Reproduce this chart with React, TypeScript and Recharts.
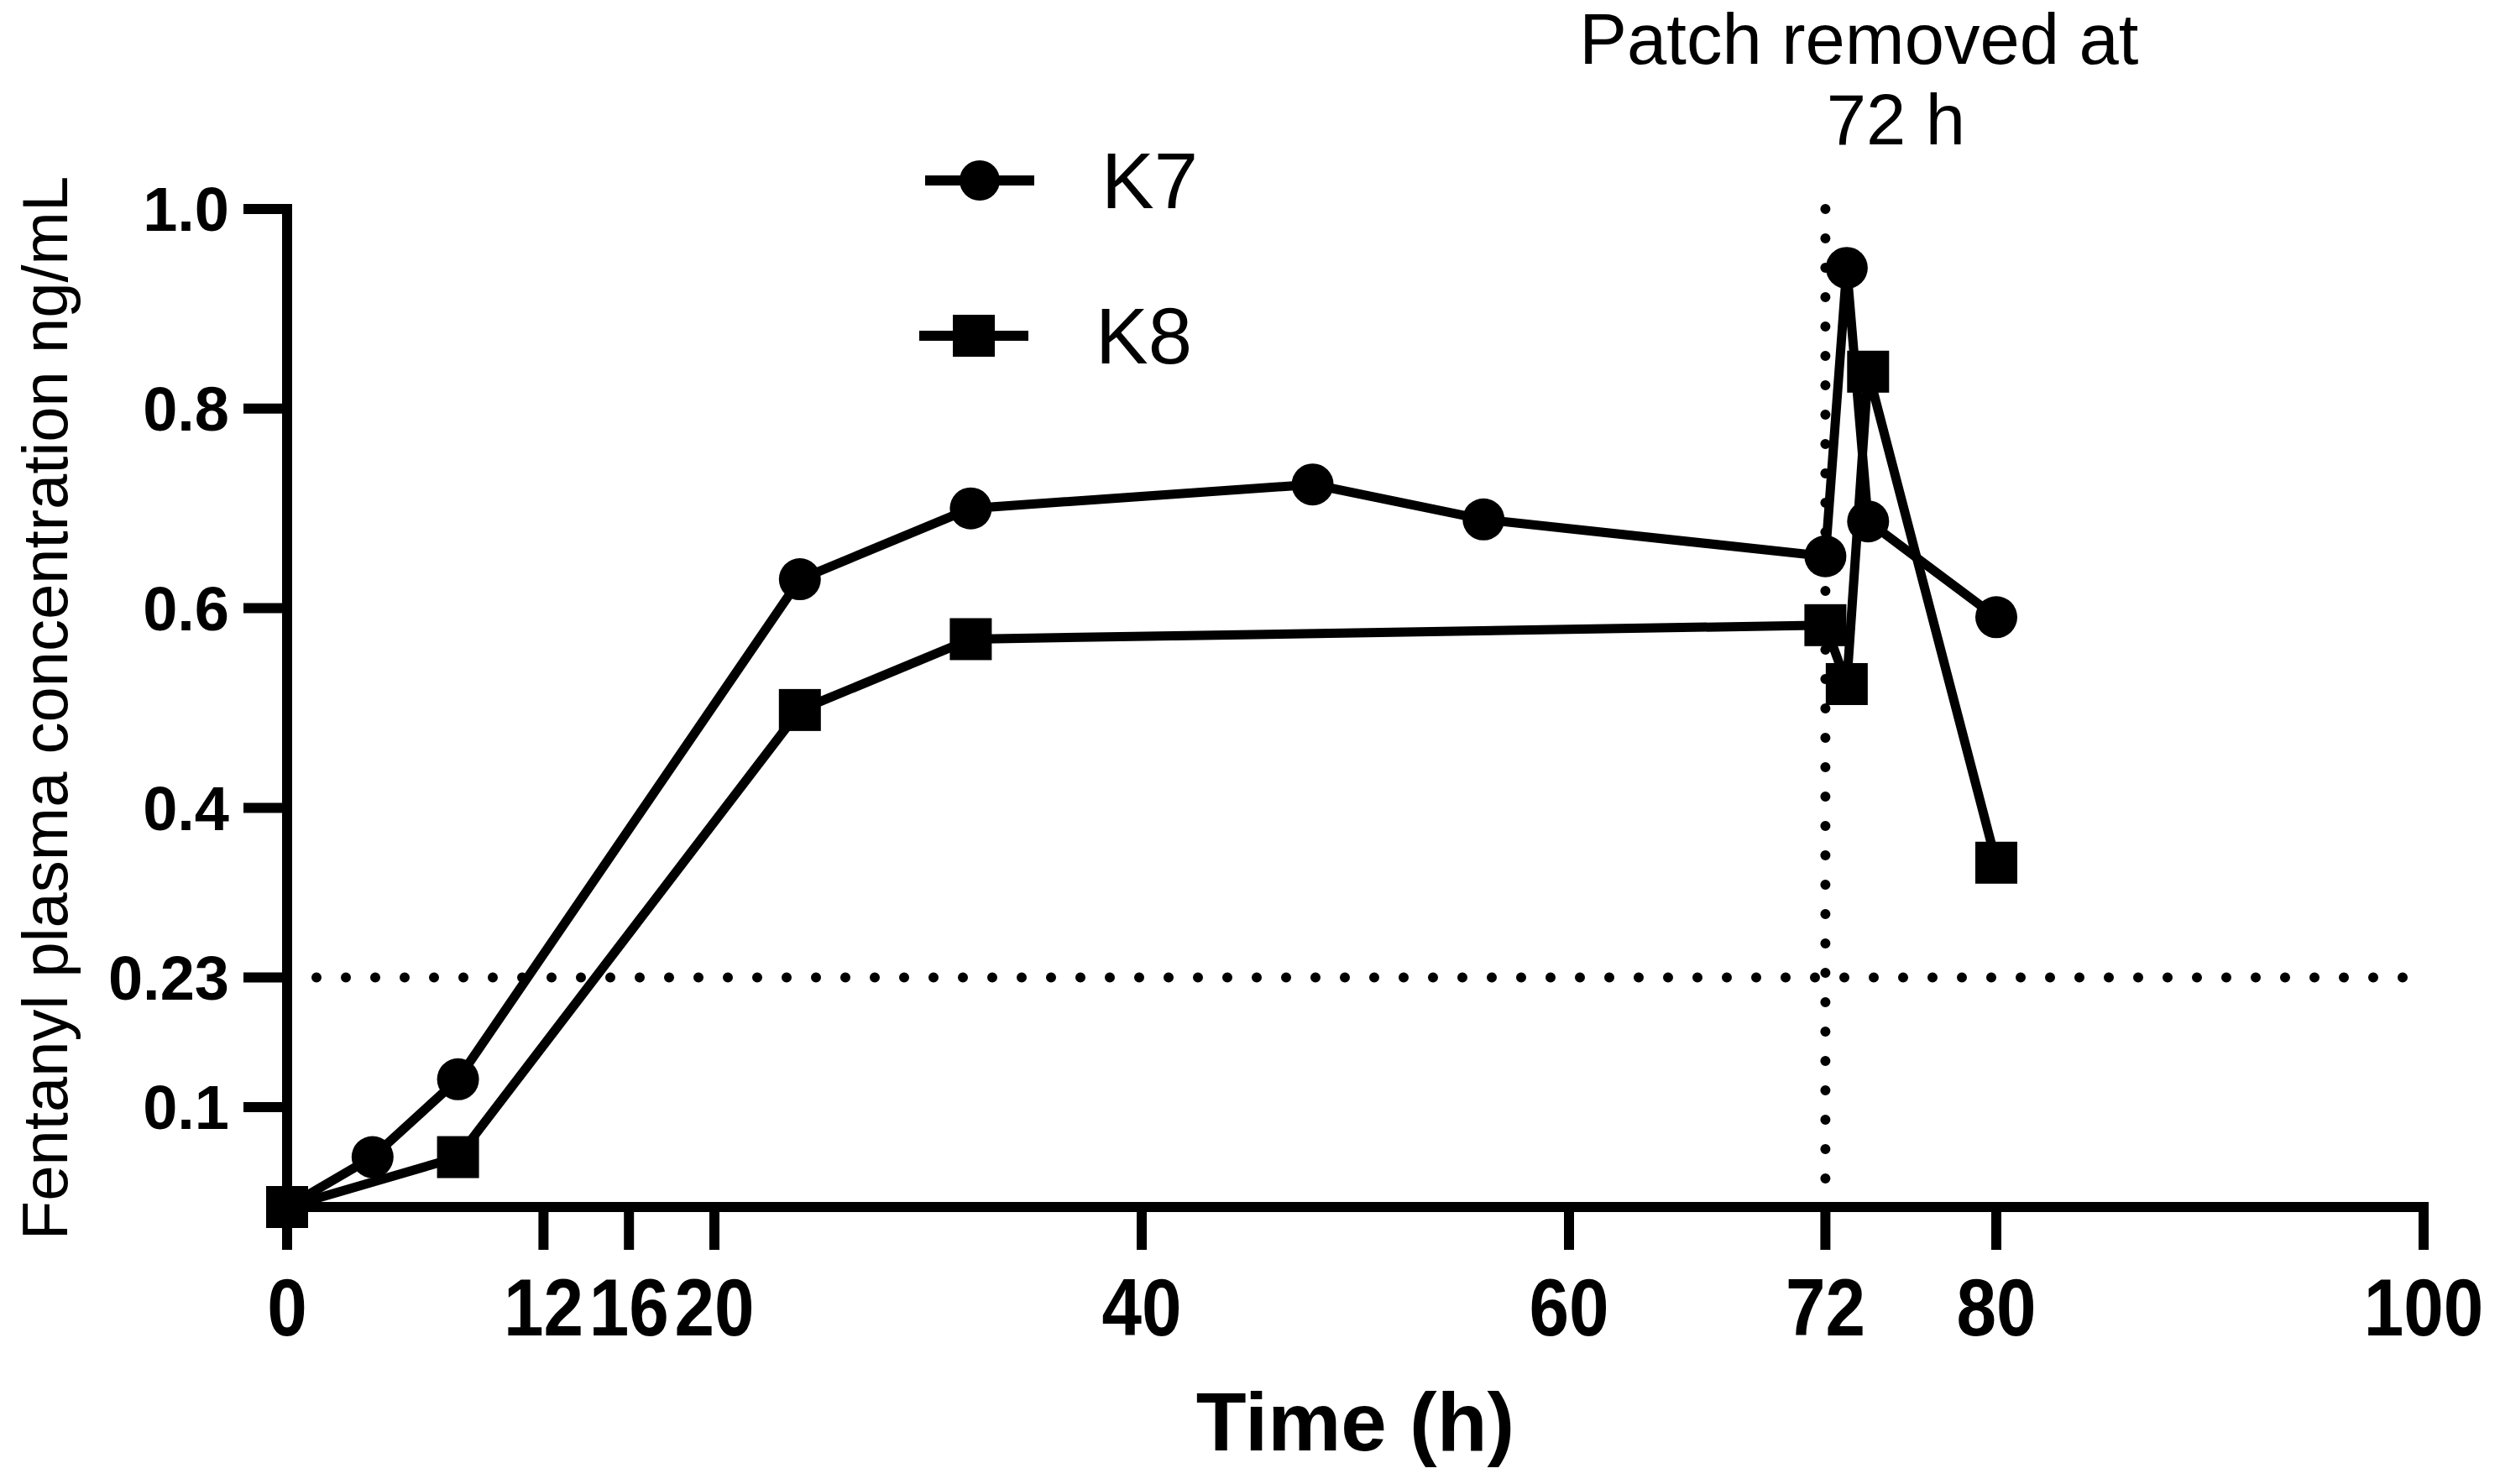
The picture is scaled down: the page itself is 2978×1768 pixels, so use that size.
import React from "react";
import {
  LineChart,
  Line,
  XAxis,
  YAxis,
  ReferenceLine,
  Legend,
} from "recharts";

// sampling times (h) and plasma concentrations (ng/mL)
const k7Hours = [0, 4, 8, 24, 32, 48, 56, 72, 73, 74, 80];
const k7Conc = [0, 0.05, 0.128, 0.629, 0.7, 0.724, 0.689, 0.652, 0.941, 0.687, 0.591];

const k8Hours = [0, 8, 24, 32, 72, 73, 74, 80];
const k8Conc = [0, 0.05, 0.498, 0.569, 0.583, 0.524, 0.837, 0.345];

const xTicks = [0, 12, 16, 20, 40, 60, 72, 80, 100];
const yTicks = [0.1, 0.23, 0.4, 0.6, 0.8, 1.0];
const yTickLabels = ["0.1", "0.23", "0.4", "0.6", "0.8", "1.0"];

const thresholdConc = 0.23;
const patchRemovedHour = 72;

const k7Data = k7Hours.map((h, i) => ({ hour: h, conc: k7Conc[i] }));
const k8Data = k8Hours.map((h, i) => ({ hour: h, conc: k8Conc[i] }));

const FONT = "'Liberation Sans', Arial, Helvetica, sans-serif";

const CircleDot = (props: any) => {
  const { cx, cy, index } = props;
  if (cx == null || cy == null) return null;
  return <circle key={`c-${index}`} cx={cx} cy={cy} r={25} fill="#000" />;
};

const SquareDot = (props: any) => {
  const { cx, cy, index } = props;
  if (cx == null || cy == null) return null;
  return <rect key={`s-${index}`} x={cx - 25} y={cy - 25} width={50} height={50} fill="#000" />;
};

// x tick labels are a condensed bold face in the original
const XTick = (props: any) => {
  const { x, y, payload } = props;
  return (
    <text
      transform={`translate(${x},${y}) scale(0.89,1)`}
      textAnchor="middle"
      dy="0.71em"
      fontFamily={FONT}
      fontWeight={700}
      fontSize={96}
      fill="#000"
    >
      {payload.value}
    </text>
  );
};

const TimeLabel = (props: any) => {
  const vb = props.viewBox || {};
  return (
    <text
      x={vb.x + vb.width / 2}
      y={vb.y + 290}
      textAnchor="middle"
      fontFamily={FONT}
      fontWeight={700}
      fontSize={98}
      fill="#000"
    >
      Time (h)
    </text>
  );
};

const ConcLabel = (props: any) => {
  const vb = props.viewBox || {};
  const x = vb.x + 80;
  const y = vb.y + vb.height / 2;
  return (
    <text
      x={x}
      y={y}
      transform={`rotate(-90, ${x}, ${y})`}
      textAnchor="middle"
      fontFamily={FONT}
      fontSize={76}
      fill="#000"
    >
      Fentanyl plasma concentration ng/mL
    </text>
  );
};

const PatchLabel = (props: any) => {
  const vb = props.viewBox || {};
  const x = vb.x;
  const top = vb.y;
  return (
    <g fontFamily={FONT} fontSize={85} fill="#000">
      <text x={x + 40} y={top - 173} textAnchor="middle">
        Patch removed at
      </text>
      <text x={x + 84} y={top - 77} textAnchor="middle">
        72 h
      </text>
    </g>
  );
};

const renderLegend = (props: any) => {
  const { payload } = props;
  return (
    <svg width={420} height={330} style={{ overflow: "visible" }}>
      {(payload || []).map((entry: any, i: number) => {
        const cy = 65 + i * 185;
        const isCircle = entry.type === "circle";
        const mx = isCircle ? 87 : 80;
        return (
          <g key={`legend-${i}`}>
            <line x1={mx - 65} x2={mx + 65} y1={cy} y2={cy} stroke="#000" strokeWidth={12} />
            {isCircle ? (
              <circle cx={mx} cy={cy} r={24} fill="#000" />
            ) : (
              <rect x={mx - 25} y={cy - 25} width={50} height={50} fill="#000" />
            )}
            <text x={mx + 145} y={cy + 33} fontFamily={FONT} fontSize={94} fill="#000">
              {entry.value}
            </text>
          </g>
        );
      })}
    </svg>
  );
};

export default function App() {
  return (
    <div style={{ position: "absolute", left: 0, top: 0, background: "#fff" }}>
      <LineChart
        width={2978}
        height={1768}
        margin={{ top: 249, right: 91, bottom: 0, left: 0 }}
      >
        <XAxis
          type="number"
          dataKey="hour"
          domain={[0, 100]}
          ticks={xTicks}
          interval={0}
          height={330}
          tickSize={51}
          tickMargin={34}
          axisLine={{ stroke: "#000", strokeWidth: 12, strokeLinecap: "square" }}
          tickLine={{ stroke: "#000", strokeWidth: 12 }}
          tick={<XTick />}
          label={{ content: <TimeLabel /> }}
          allowDuplicatedCategory={false}
        />
        <YAxis
          type="number"
          dataKey="conc"
          domain={[0, 1]}
          ticks={yTicks}
          interval={0}
          width={342}
          tickSize={52}
          tickMargin={17}
          axisLine={{ stroke: "#000", strokeWidth: 12, strokeLinecap: "square" }}
          tickLine={{ stroke: "#000", strokeWidth: 12 }}
          tick={{ fill: "#000", fontSize: 74, fontWeight: 700, fontFamily: FONT }}
          tickFormatter={(v: number) => yTickLabels[yTicks.indexOf(v)] ?? String(v)}
          label={{ content: <ConcLabel /> }}
        />
        <ReferenceLine
          y={thresholdConc}
          stroke="#000"
          strokeWidth={12}
          strokeDasharray="0 35"
          strokeLinecap="round"
        />
        <ReferenceLine
          segment={[
            { x: patchRemovedHour, y: 1 },
            { x: patchRemovedHour, y: 0.028 },
          ]}
          stroke="#000"
          strokeWidth={12}
          strokeDasharray="0 35"
          strokeLinecap="round"
          label={{ content: <PatchLabel /> }}
        />
        <Legend
          layout="vertical"
          align="center"
          verticalAlign="middle"
          content={renderLegend}
          wrapperStyle={{ position: "absolute", left: 1080, top: 150, width: 420, height: 330 }}
        />
        <Line
          data={k7Data}
          dataKey="conc"
          name="K7"
          type="linear"
          stroke="#000"
          strokeWidth={11}
          dot={CircleDot}
          activeDot={false}
          legendType="circle"
          isAnimationActive={false}
        />
        <Line
          data={k8Data}
          dataKey="conc"
          name="K8"
          type="linear"
          stroke="#000"
          strokeWidth={11}
          dot={SquareDot}
          activeDot={false}
          legendType="square"
          isAnimationActive={false}
        />
      </LineChart>
    </div>
  );
}
